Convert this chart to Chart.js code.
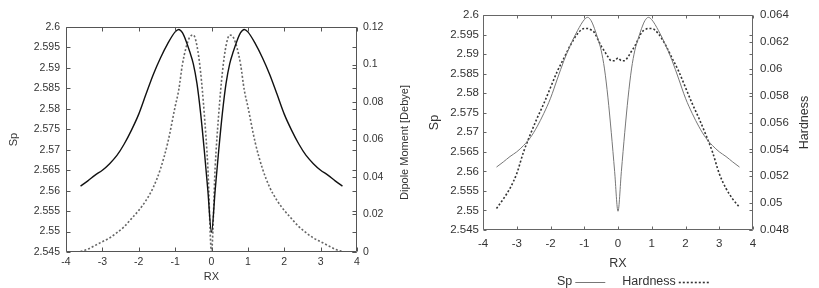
<!DOCTYPE html>
<html>
<head>
<meta charset="utf-8">
<script src="https://cdn.jsdelivr.net/npm/chart.js@4/dist/chart.umd.min.js"></script>
<style>
  html, body { margin: 0; padding: 0; background: #fff; }
  #wrap { position: relative; width: 819px; height: 288px; }
  #c1 { position: absolute; left: 0; top: 0; }
  #c2 { position: absolute; left: 410px; top: 0; }
</style>
</head>
<body>
<div id="wrap">
  <canvas id="c1" width="410" height="288"></canvas>
  <canvas id="c2" width="409" height="288"></canvas>
</div>
<script>
// Datos
var RX = [-3.6, -3.4, -3.2, -3.0, -2.8, -2.6, -2.4, -2.2, -2.0, -1.8, -1.6, -1.4, -1.2, -1.0, -0.9, -0.8, -0.7, -0.6, -0.5, -0.4, -0.3, -0.2, -0.1, 0,
          0.1, 0.2, 0.3, 0.4, 0.5, 0.6, 0.7, 0.8, 0.9, 1.0, 1.2, 1.4, 1.6, 1.8, 2.0, 2.2, 2.4, 2.6, 2.8, 3.0, 3.2, 3.4, 3.6];
var SP = [2.5611, 2.5624, 2.5638, 2.5650, 2.5666, 2.5686, 2.5714, 2.5748, 2.5787, 2.5836, 2.5884, 2.5925, 2.5960, 2.5988, 2.5994, 2.5986, 2.5966, 2.5940, 2.5910, 2.5862, 2.5790, 2.5700, 2.5600, 2.5498,
          2.5600, 2.5700, 2.5790, 2.5862, 2.5910, 2.5940, 2.5966, 2.5986, 2.5994, 2.5988, 2.5960, 2.5925, 2.5884, 2.5836, 2.5787, 2.5748, 2.5714, 2.5686, 2.5666, 2.5650, 2.5638, 2.5624, 2.5611];
var DIPOLE = [0.0002, 0.0015, 0.0035, 0.0055, 0.0075, 0.0103, 0.0135, 0.0178, 0.0222, 0.0275, 0.0345, 0.0445, 0.0585, 0.0775, 0.0865, 0.1000, 0.1090, 0.1145, 0.1157, 0.1100, 0.0960, 0.0740, 0.0450, 0.0000,
              0.0450, 0.0740, 0.0960, 0.1100, 0.1157, 0.1145, 0.1090, 0.1000, 0.0865, 0.0775, 0.0585, 0.0445, 0.0345, 0.0275, 0.0222, 0.0178, 0.0135, 0.0103, 0.0075, 0.0055, 0.0035, 0.0015, 0.0002];
var HARDNESS = [0.0496, 0.0503, 0.0511, 0.0522, 0.0538, 0.0551, 0.0563, 0.0574, 0.0586, 0.0598, 0.0608, 0.0618, 0.0626, 0.0630, 0.0630, 0.0629, 0.0627, 0.0622, 0.0617, 0.0613, 0.0609, 0.0606, 0.0606, 0.0608,
                0.0606, 0.0606, 0.0609, 0.0613, 0.0617, 0.0622, 0.0627, 0.0629, 0.0630, 0.0630, 0.0626, 0.0618, 0.0608, 0.0598, 0.0586, 0.0574, 0.0563, 0.0551, 0.0538, 0.0522, 0.0511, 0.0503, 0.0497];

var RANGO_X = [-4, 4];
var RANGO_SP = [2.545, 2.6];
var RANGO_DIPOLE = [0, 0.12];
var RANGO_HARDNESS = [0.048, 0.064];

Chart.defaults.font.family = '"Liberation Sans", Arial, sans-serif';
Chart.defaults.color = '#333';

function puntos(ys) {
  return RX.map(function (x, i) { return { x: x, y: ys[i] }; });
}
function etiqueta(v) {
  return String(Number(v.toFixed(3)));
}

// Marco con marcas hacia dentro, título del eje derecho y leyenda
var marco = {
  id: 'marco',
  afterDatasetsDraw: function (chart, args, o) {
    var ctx = chart.ctx, a = chart.chartArea;
    var sx = chart.scales.x, sy = chart.scales.y, sy2 = chart.scales.y2;
    var l = Math.round(a.left) + 0.5, r = Math.round(a.right) - 0.5;
    var t = Math.round(a.top) + 0.5, b = Math.round(a.bottom) - 0.5;
    ctx.save();
    ctx.strokeStyle = o.color;
    ctx.lineWidth = 1;
    ctx.beginPath();
    ctx.rect(l, t, r - l, b - t);
    sx.ticks.forEach(function (tk) {
      var p = Math.round(sx.getPixelForValue(tk.value)) + 0.5;
      ctx.moveTo(p, b); ctx.lineTo(p, b - o.len);
      ctx.moveTo(p, t); ctx.lineTo(p, t + o.len);
    });
    sy.ticks.forEach(function (tk) {
      var p = Math.round(sy.getPixelForValue(tk.value)) + 0.5;
      ctx.moveTo(l, p); ctx.lineTo(l + o.len, p);
      ctx.moveTo(r, p); ctx.lineTo(r - o.len, p);
    });
    sy2.ticks.forEach(function (tk) {
      var p = Math.round(sy2.getPixelForValue(tk.value)) + 0.5;
      ctx.moveTo(r, p); ctx.lineTo(r - o.len, p);
    });
    ctx.stroke();

    ctx.fillStyle = '#333';
    ctx.font = o.font;
    ctx.textAlign = 'center';
    ctx.textBaseline = 'middle';
    ctx.save();
    ctx.translate(o.titleX, (a.top + a.bottom) / 2 + o.titleDy);
    ctx.rotate(-Math.PI / 2);
    ctx.fillText(o.title, 0, 0);
    ctx.restore();

    if (o.legend) {
      var x = o.legend.x, y = o.legend.y;
      ctx.textAlign = 'left';
      chart.data.datasets.forEach(function (ds) {
        ctx.fillStyle = '#333';
        ctx.fillText(ds.label, x, y);
        x += ctx.measureText(ds.label).width + 3;
        ctx.beginPath();
        ctx.strokeStyle = ds.borderColor;
        ctx.lineWidth = ds.borderWidth;
        ctx.setLineDash(ds.borderDash || []);
        ctx.moveTo(x, y + 0.5); ctx.lineTo(x + 30, y + 0.5);
        ctx.stroke();
        ctx.setLineDash([]);
        x += 30 + 17;
      });
    }
    ctx.restore();
  }
};

function ejes(cfg) {
  return {
    x: {
      type: 'linear', min: RANGO_X[0], max: RANGO_X[1],
      ticks: { stepSize: 1, padding: cfg.xPad, font: { size: cfg.tick } },
      grid: { display: false, drawTicks: false }, border: { display: false },
      title: { display: true, text: 'RX', font: { size: cfg.title }, padding: { top: 0, bottom: cfg.rxPad } },
      afterFit: function (s) { s.height = cfg.xH; }
    },
    y: {
      position: 'left', min: RANGO_SP[0], max: RANGO_SP[1],
      ticks: { stepSize: 0.005, padding: cfg.yPad, font: { size: cfg.tick }, callback: etiqueta, autoSkip: false },
      grid: { display: false, drawTicks: false }, border: { display: false },
      title: { display: true, text: 'Sp', font: { size: cfg.title }, padding: { top: cfg.spPad, bottom: 0 } },
      afterFit: function (s) { s.width = cfg.yW; }
    },
    y2: {
      position: 'right', min: cfg.r2[0], max: cfg.r2[1],
      ticks: { stepSize: cfg.r2Step, padding: cfg.y2Pad, font: { size: cfg.tick }, callback: etiqueta, autoSkip: false },
      grid: { display: false, drawTicks: false }, border: { display: false },
      afterFit: function (s) { s.width = cfg.y2W; }
    }
  };
}

new Chart(document.getElementById('c1'), {
  type: 'line',
  data: {
    datasets: [
      { label: 'Sp', data: puntos(SP), yAxisID: 'y', borderColor: '#111', borderWidth: 1.4, pointRadius: 0, cubicInterpolationMode: 'monotone' },
      { label: 'Dipole Moment [Debye]', data: puntos(DIPOLE), yAxisID: 'y2', borderColor: '#666', borderWidth: 1.6, borderDash: [2, 2], pointRadius: 0, cubicInterpolationMode: 'monotone' }
    ]
  },
  options: {
    responsive: false,
    animation: false,
    layout: { padding: { top: 27, left: 0, right: 0, bottom: 0 } },
    plugins: {
      legend: { display: false },
      tooltip: { enabled: false },
      marco: { color: '#555', len: 4, font: '11px "Liberation Sans", Arial, sans-serif', title: 'Dipole Moment [Debye]', titleX: 405, titleDy: 3 }
    },
    scales: ejes({ tick: 10.5, title: 11, xPad: 4, yPad: 6, y2Pad: 6, rxPad: 4, spPad: 7, xH: 36, yW: 66, y2W: 53, r2: RANGO_DIPOLE, r2Step: 0.02 })
  },
  plugins: [marco]
});

new Chart(document.getElementById('c2'), {
  type: 'line',
  data: {
    datasets: [
      { label: 'Sp', data: puntos(SP), yAxisID: 'y', borderColor: '#777', borderWidth: 1, pointRadius: 0, cubicInterpolationMode: 'monotone' },
      { label: 'Hardness', data: puntos(HARDNESS), yAxisID: 'y2', borderColor: '#333', borderWidth: 1.6, borderDash: [2, 2], pointRadius: 0, cubicInterpolationMode: 'monotone' }
    ]
  },
  options: {
    responsive: false,
    animation: false,
    layout: { padding: { top: 15, left: 0, right: 0, bottom: 0 } },
    plugins: {
      legend: { display: false },
      tooltip: { enabled: false },
      marco: { color: '#666', len: 3, font: '12.5px "Liberation Sans", Arial, sans-serif', title: 'Hardness', titleX: 395, titleDy: 0,
               legend: { x: 147, y: 282 } }
    },
    scales: ejes({ tick: 11.5, title: 12.5, xPad: 7, yPad: 4, y2Pad: 7, rxPad: 17, spPad: 17, xH: 58, yW: 73, y2W: 66, r2: RANGO_HARDNESS, r2Step: 0.002 })
  },
  plugins: [marco]
});
</script>
</body>
</html>
